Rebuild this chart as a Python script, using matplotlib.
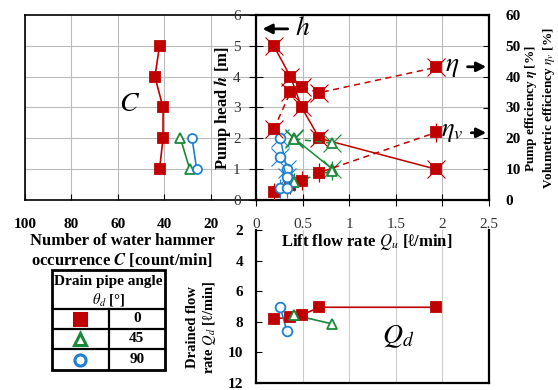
import matplotlib
matplotlib.use("Agg")
import matplotlib.pyplot as plt
from matplotlib.patches import Rectangle

plt.rcParams['font.family'] = ['Liberation Serif', 'DejaVu Serif']
plt.rcParams['mathtext.fontset'] = 'stix'

# drain pipe angle 0 deg
qu_0 = [0.19, 0.37, 0.49, 0.68, 1.93]
h_0 = [5, 4, 3, 2, 1]
eta_0 = [22.9, 35.0, 36.5, 34.8, 43.0]
etav_0 = [2.5, 5.0, 6.3, 8.9, 21.9]
c_0 = [42, 44, 40.5, 40.5, 42]
qd_0 = [7.84, 7.67, 7.56, 7.05, 7.05]

# drain pipe angle 45 deg
qu_45 = [0.41, 0.82]
h_45 = [2, 1]
eta_45 = [19.8, 18.4]
etav_45 = [5.9, 9.5]
c_45 = [33, 29]
qd_45 = [7.56, 8.14]

# drain pipe angle 90 deg
qu_90 = [0.26, 0.33]
h_90 = [2, 1]
eta_90 = [14.1, 7.6]
etav_90 = [3.8, 3.8]
c_90 = [28, 26]
qd_90 = [7.05, 8.58]

angles = ['0', '45', '90']

red = '#c00000'
green = '#1a8a3a'
blue = '#2080d0'

series = [
    (qu_0, h_0, eta_0, etav_0, c_0, qd_0, red, 's', True),
    (qu_45, h_45, eta_45, etav_45, c_45, qd_45, green, '^', False),
    (qu_90, h_90, eta_90, etav_90, c_90, qd_90, blue, 'o', False),
]

fig = plt.figure(figsize=(5.58, 3.9), dpi=100)

W, H = 558.0, 390.0
def box(x0, y0, x1, y1):
    return [x0 / W, 1 - y1 / H, (x1 - x0) / W, (y1 - y0) / H]


def mark(a, x, y, color, marker, filled, ms=7):
    a.plot(x, y, ls='none', marker=marker, ms=ms,
           mfc=color if filled else 'white', mec=color, mew=1.3, zorder=5)


# ---- bottom panel: drained flow rate (drawn first, underneath) ----
axd = fig.add_axes(box(256, 230, 489, 383))
axd.patch.set_visible(False)
axd.set_xlim(0, 2.5)
axd.set_ylim(12, 2)
axd.set_yticks(range(2, 13, 2))
axd.set_xticks([0.5, 1, 1.5, 2])
axd.set_xticklabels([])
axd.tick_params(axis='x', length=0)
axd.tick_params(axis='y', direction='in', length=4, pad=9, labelsize=11)
for t in axd.get_yticklabels():
    t.set_fontweight('bold')
axd.grid(True, axis='x', color='#cccccc', lw=0.8)
axd.spines['top'].set_visible(False)
for s in axd.spines.values():
    s.set_linewidth(1.6)
for qu, h, eta, etav, c, qd, col, mk, fill in series:
    axd.plot(qu, qd, color=col, lw=1.2)
    mark(axd, qu, qd, col, mk, fill)
axd.text(1.53, 9.0, '$Q_d$', fontsize=20, ha='center', va='center')
fig.text(202 / W, 1 - 327 / H, 'Drained flow\nrate $\\boldsymbol{Q_d}$ [ℓ/min]',
         rotation=90, ha='center', va='center', fontsize=10.5,
         fontweight='bold', linespacing=1.2)

# ---- left panel: water hammer count ----
axc = fig.add_axes(box(25, 15, 257, 200))
axc.set_xlim(100, 0)
axc.set_ylim(0, 6)
axc.set_xticks([100, 80, 60, 40, 20])
axc.set_yticks([1, 2, 3, 4, 5])
axc.set_yticklabels([])
axc.tick_params(axis='y', length=0)
axc.tick_params(axis='x', direction='in', length=4, pad=13, labelsize=11)
for t in axc.get_xticklabels():
    t.set_fontweight('bold')
axc.grid(True, color='#bbbbbb', lw=0.8)
for s in axc.spines.values():
    s.set_linewidth(1.2)
axc.spines['right'].set_visible(False)
for qu, h, eta, etav, c, qd, col, mk, fill in series:
    axc.plot(c, h, color=col, lw=1.2)
    mark(axc, c, h, col, mk, fill, ms=6.5)
axc.text(55, 3.1, '$C$', fontsize=20, ha='center', va='center')
fig.text(122 / W, 1 - 251 / H,
         'Number of water hammer\noccurrence $\\boldsymbol{C}$ [count/min]',
         ha='center', va='center', fontsize=12, fontweight='bold',
         linespacing=1.15)

# ---- main panel: pump head and efficiencies ----
ax = fig.add_axes(box(256, 15, 489, 200))
ax.patch.set_visible(False)
ax.set_xlim(0, 2.5)
ax.set_ylim(0, 6)
ax.set_xticks([0, 0.5, 1, 1.5, 2, 2.5])
ax.set_xticklabels(['0', '0.5', '1', '1.5', '2', '2.5'])
ax.set_yticks(range(7))
ax.tick_params(axis='x', direction='inout', length=8, pad=9, labelsize=11,
               labelcolor='#333333')
ax.tick_params(axis='y', direction='inout', length=10, pad=6, labelsize=11,
               labelcolor='#333333')
ax.grid(True, color='#bbbbbb', lw=0.8)
ax.set_axisbelow(True)
for s in ax.spines.values():
    s.set_linewidth(1.6)
ax.set_ylabel('Pump head $\\boldsymbol{h}$ [m]', fontsize=12,
              fontweight='bold', labelpad=0)

ax2 = ax.twinx()
ax2.set_ylim(0, 60)
ax2.set_yticks(range(0, 61, 10))
ax2.tick_params(axis='y', direction='in', length=4, pad=12, labelsize=11)
for t in ax2.get_yticklabels():
    t.set_fontweight('bold')
for s in ax2.spines.values():
    s.set_visible(False)

for qu, h, eta, etav, c, qd, col, mk, fill in series:
    ax.plot(qu, h, color=col, lw=1.1, zorder=3)
    ax.plot(qu, h, ls='none', marker='x', ms=13, mew=0.8, color=col, zorder=4)
    mark(ax, qu, h, col, mk, fill)
    ax2.plot(qu, eta, color=col, lw=1.1, ls=(0, (4, 3)), zorder=3)
    ax2.plot(qu, eta, ls='none', marker='x', ms=13, mew=0.8, color=col,
             zorder=4)
    mark(ax2, qu, eta, col, mk, fill)
    ax2.plot(qu, etav, color=col, lw=1.1, ls=(0, (4, 3)), zorder=3)
    ax2.errorbar(qu, etav, yerr=3, fmt='none', ecolor=col, elinewidth=0.9,
                 zorder=4)
    mark(ax2, qu, etav, col, mk, fill)

ax.annotate('', xy=(0.04, 5.55), xytext=(0.37, 5.55),
            arrowprops=dict(arrowstyle='-|>', color='black', lw=2,
                            mutation_scale=14))
ax.text(0.42, 5.55, '$h$', fontsize=20, va='center', ha='left')
ax.text(2.10, 4.32, '$\\eta$', fontsize=20, va='center', ha='center')
ax.annotate('', xy=(2.5, 4.32), xytext=(2.24, 4.32),
            arrowprops=dict(arrowstyle='-|>', color='black', lw=2,
                            mutation_scale=14))
ax.text(1.99, 2.18, '$\\eta_v$', fontsize=19, va='center', ha='left')
ax.annotate('', xy=(2.5, 2.18), xytext=(2.28, 2.18),
            arrowprops=dict(arrowstyle='-|>', color='black', lw=2,
                            mutation_scale=14))

fig.text(367 / W, 1 - 242 / H, 'Lift flow rate $\\boldsymbol{Q_u}$ [ℓ/min]',
         ha='center', va='center', fontsize=12, fontweight='bold')
fig.text(531 / W, 1 - 108 / H, 'Pump efficiency $\\boldsymbol{\\eta}$ [%]',
         rotation=90, ha='center', va='center', fontsize=9.5,
         fontweight='bold')
fig.text(549 / W, 1 - 108 / H,
         'Volumetric efficiency $\\boldsymbol{\\eta_v}$ [%]',
         rotation=90, ha='center', va='center', fontsize=9.5,
         fontweight='bold')

# ---- legend table ----
axl = fig.add_axes(box(52, 270, 165, 370))
axl.set_xlim(0, 1)
axl.set_ylim(0, 1)
axl.axis('off')
axl.add_patch(Rectangle((0, 0), 1, 1, fill=False, lw=2, clip_on=False))
for yy in [0.61, 0.41, 0.21]:
    axl.plot([0, 1], [yy, yy], color='black', lw=1.6)
axl.plot([0.5, 0.5], [0, 0.61], color='black', lw=1.6)
axl.text(0.5, 0.88, 'Drain pipe angle', ha='center', va='center',
         fontsize=11, fontweight='bold')
axl.text(0.5, 0.7, '$\\boldsymbol{\\theta_d}$ [°]', ha='center',
         va='center', fontsize=10.5, fontweight='bold')
row_y = [0.51, 0.31, 0.105]
for (qu, h, eta, etav, c, qd, col, mk, fill), ry, lab in zip(series, row_y,
                                                             angles):
    axl.plot([0.25], [ry], ls='none', marker=mk, ms=8,
             mfc=col if fill else 'white', mec=col, mew=2.2)
    axl.text(0.75, ry, lab, ha='center', va='center', fontsize=11,
             fontweight='bold')

fig.savefig('out.png', dpi=100)
